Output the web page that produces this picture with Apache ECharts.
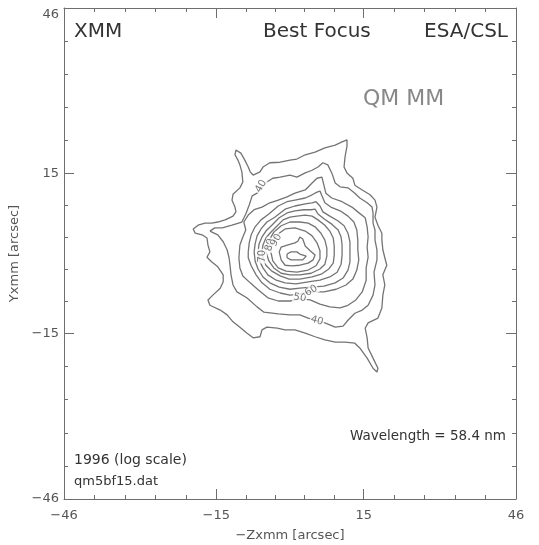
<!DOCTYPE html>
<html><head><meta charset="utf-8">
<script src="https://cdn.jsdelivr.net/npm/echarts@6/dist/echarts.min.js"></script>
<style>html,body{margin:0;padding:0;background:#fff}#c{width:539px;height:545px}</style>
</head><body><div id="c"></div>
<script>
// ---- data (arcsec) ----
const xTickLabels = [-46, -15, 15, 46];
const yTickLabels = [-46, -15, 15, 46];
const minorTicks = [-39.8, -33.6, -27.4, -21.2, -9, -3, 3, 9, 21.2, 27.4, 33.6, 39.8];
const levels = [30, 40, 50, 60, 70, 80, 90, 100, 110, 120, 130];

const contour30 = [[-11.0,19.4],[-10.0,18.8],[-9.2,17.5],[-8.5,16.2],[-8.1,15.3],[-7.5,14.7],[-6.1,15.3],[-5.5,16.2],[-4.1,17.0],[-2.0,17.1],[0.0,17.5],[1.4,17.7],[3.1,18.5],[5.1,19.0],[7.1,19.8],[9.2,20.3],[10.6,20.9],[11.6,21.3],[11.6,20.1],[11.2,18.1],[11.0,16.2],[11.6,15.1],[12.8,14.1],[13.2,12.8],[14.7,11.9],[16.3,11.0],[17.3,10.0],[17.7,8.7],[17.3,6.8],[17.9,5.3],[18.7,3.8],[18.7,2.5],[18.9,0.7],[19.3,-0.8],[19.7,-2.2],[18.9,-4.0],[19.3,-5.9],[18.9,-7.8],[18.7,-10.2],[17.9,-12.1],[15.9,-13.0],[15.3,-14.0],[15.7,-15.8],[15.9,-17.7],[16.9,-19.6],[17.9,-21.5],[17.7,-22.2],[16.9,-21.5],[15.7,-19.6],[14.2,-17.7],[13.2,-16.8],[11.2,-16.6],[9.2,-16.6],[7.1,-16.2],[5.1,-15.6],[3.1,-14.9],[1.0,-14.3],[-1.0,-14.3],[-2.6,-14.0],[-4.7,-13.8],[-5.7,-14.3],[-6.1,-15.6],[-7.5,-15.8],[-8.8,-14.9],[-10.2,-13.8],[-11.6,-12.8],[-12.8,-11.5],[-14.2,-10.6],[-16.3,-9.7],[-16.7,-8.7],[-15.7,-7.8],[-14.2,-6.5],[-13.6,-5.3],[-13.6,-4.0],[-14.7,-2.5],[-15.9,-1.6],[-16.9,-0.7],[-16.3,0.3],[-16.7,1.6],[-16.9,2.9],[-17.9,3.5],[-19.3,3.8],[-19.7,4.6],[-18.7,5.3],[-17.3,5.7],[-15.9,5.7],[-14.7,5.9],[-13.2,6.3],[-11.6,7.0],[-11.0,7.8],[-11.2,8.7],[-11.8,10.0],[-11.6,11.1],[-10.2,12.3],[-9.6,13.4],[-9.8,15.3],[-10.2,16.6],[-10.6,17.5],[-11.2,18.5]];
const contour40 = [[-16.3,4.2],[-15.3,4.8],[-13.8,4.8],[-11.8,5.3],[-9.8,5.9],[-9.0,7.4],[-8.3,9.1],[-7.7,10.8],[-6.7,11.3],[-5.7,12.3],[-4.7,13.4],[-3.5,14.1],[-2.0,14.3],[0.0,14.7],[1.4,14.3],[3.1,15.1],[4.5,15.6],[5.7,16.2],[6.7,17.0],[7.7,16.6],[8.5,15.1],[9.2,13.2],[10.2,12.5],[11.8,12.3],[13.2,11.3],[14.2,10.4],[15.7,9.5],[16.7,8.7],[16.9,7.6],[16.9,5.7],[17.3,4.4],[17.3,2.5],[17.7,0.7],[17.7,-1.2],[17.1,-3.5],[17.3,-5.9],[16.9,-7.8],[15.9,-9.7],[14.7,-10.6],[13.2,-11.2],[11.8,-12.5],[10.8,-13.6],[9.2,-13.8],[7.1,-13.0],[5.5,-12.6],[3.7,-12.1],[2.0,-11.5],[0.0,-11.5],[-2.4,-11.3],[-5.3,-11.0],[-6.7,-10.0],[-8.8,-8.3],[-10.8,-7.2],[-11.6,-5.9],[-12.0,-4.0],[-12.2,-2.3],[-12.4,-0.8],[-12.8,0.7],[-13.6,2.2],[-14.7,3.5]];
const contour50 = [[-10.2,1.6],[-9.6,3.1],[-9.0,4.4],[-9.4,5.9],[-8.5,7.2],[-7.3,8.2],[-5.7,8.7],[-4.1,9.5],[-2.4,10.0],[-0.6,10.6],[1.0,11.3],[3.1,11.9],[4.5,13.2],[5.5,14.1],[6.5,14.3],[6.9,12.8],[7.3,11.3],[8.5,10.4],[10.6,9.7],[12.6,8.7],[13.8,7.8],[15.3,6.7],[15.7,5.0],[15.9,3.1],[15.7,1.2],[15.9,-0.7],[15.5,-2.7],[15.5,-5.0],[14.7,-7.2],[13.4,-8.7],[11.8,-9.7],[10.2,-10.2],[8.1,-10.0],[6.1,-9.5],[4.1,-8.7],[2.0,-8.5],[0.0,-8.9],[-2.4,-8.9],[-4.5,-8.3],[-6.5,-6.8],[-8.1,-5.5],[-9.6,-4.2],[-10.2,-2.7],[-10.4,-0.8]];
const contour60 = [[-8.5,0.3],[-8.3,2.0],[-7.9,3.5],[-7.1,5.0],[-5.9,6.3],[-4.3,7.4],[-2.4,8.9],[-0.6,9.7],[1.0,10.0],[3.1,10.4],[4.5,11.0],[5.5,11.5],[6.1,11.7],[6.5,10.8],[7.1,9.5],[8.3,8.7],[10.2,8.0],[11.8,7.0],[13.0,5.9],[13.6,4.4],[13.8,2.5],[13.8,0.7],[14.0,-1.2],[13.6,-3.1],[12.8,-4.8],[11.4,-5.9],[9.4,-6.7],[6.9,-7.2],[4.3,-7.2],[2.0,-7.6],[0.0,-7.8],[-2.0,-7.4],[-4.1,-6.7],[-5.7,-5.5],[-6.9,-4.0],[-7.9,-2.3],[-8.5,-0.8]];
const contour70 = [[-7.3,0.3],[-7.1,1.8],[-6.7,3.3],[-5.9,4.6],[-4.7,5.9],[-3.1,6.8],[-1.0,8.3],[1.0,8.9],[3.1,9.3],[4.5,9.5],[5.3,9.7],[5.7,9.8],[6.1,8.9],[6.7,7.8],[8.1,7.0],[9.8,6.1],[11.0,5.2],[11.8,3.8],[12.2,2.2],[12.2,0.3],[12.2,-1.6],[11.8,-3.1],[10.8,-4.6],[9.2,-5.5],[6.9,-6.1],[4.5,-6.3],[2.0,-6.5],[0.0,-6.7],[-2.2,-6.3],[-4.1,-5.5],[-5.5,-4.4],[-6.5,-2.9],[-7.1,-1.4]];
const contour80 = [[-6.5,0.3],[-6.3,1.8],[-5.7,3.1],[-4.9,4.2],[-3.7,5.3],[-2.2,6.7],[-0.6,7.6],[1.0,8.0],[2.8,8.2],[4.3,8.2],[5.1,8.3],[5.7,7.4],[6.9,6.5],[8.5,5.5],[9.8,4.4],[10.4,3.1],[10.6,1.6],[10.6,-0.3],[10.4,-2.0],[9.6,-3.5],[8.1,-4.4],[6.1,-5.0],[3.7,-5.3],[1.2,-5.7],[-1.0,-5.5],[-2.8,-5.0],[-4.5,-4.0],[-5.5,-2.7],[-6.3,-1.2]];
const contour90 = [[-5.7,0.3],[-5.5,1.6],[-4.9,2.9],[-4.1,3.8],[-2.8,5.0],[-1.4,6.3],[0.0,6.8],[1.4,7.0],[3.1,7.2],[4.5,7.0],[5.7,6.3],[7.1,5.3],[8.1,4.2],[8.8,2.9],[9.0,1.4],[9.0,-0.3],[8.8,-1.8],[7.9,-2.9],[6.5,-3.8],[4.5,-4.4],[2.0,-4.8],[-0.2,-4.8],[-2.0,-4.2],[-3.7,-3.3],[-4.9,-2.2],[-5.5,-0.8]];
const contour100 = [[-4.9,0.3],[-4.7,1.6],[-4.1,2.7],[-3.3,4.0],[-1.8,5.2],[0.0,5.9],[2.0,5.9],[3.7,5.7],[5.1,5.0],[6.3,3.8],[7.1,2.5],[7.5,1.0],[7.5,-0.5],[7.1,-2.0],[6.1,-2.9],[4.3,-3.7],[2.0,-4.0],[0.0,-4.0],[-1.8,-3.7],[-3.3,-2.7],[-4.3,-1.4]];
const contour110 = [[-3.9,0.3],[-3.7,1.6],[-3.1,2.9],[-2.2,3.8],[-1.0,4.6],[1.0,4.8],[3.1,4.2],[4.5,3.3],[5.5,2.0],[6.1,0.5],[6.1,-1.0],[5.3,-2.3],[3.7,-3.1],[1.4,-3.5],[-0.8,-3.3],[-2.4,-2.7],[-3.5,-1.4]];
const contour120 = [[-2.2,0.3],[-1.8,1.2],[-0.4,1.6],[1.0,2.0],[1.6,2.3],[2.0,3.1],[2.6,2.7],[3.1,1.4],[4.1,0.5],[5.1,-0.3],[4.7,-1.2],[3.7,-1.8],[2.0,-2.2],[0.4,-2.3],[-1.0,-2.2],[-1.8,-1.2]];
const contour130 = [[-0.6,-0.1],[0.2,0.3],[1.4,0.3],[2.0,-0.1],[3.3,-0.5],[3.7,-0.8],[2.6,-1.2],[1.2,-1.2],[0.2,-1.2],[-0.6,-0.8]];

const contourLabelText = ['40', '40', '50', '60', '70', '80', '90'];
const contourLabelPos = [[-5.9, 12.6], [5.5, -12.6], [2.0, -8.3], [4.3, -7.0], [-5.7, -0.5], [-4.1, 1.6], [-2.8, 2.5]];
const contourLabelAngle = [60, -15, -10, 30, 90, 75, 60];

// ---- chart ----
const FONT = 'DejaVu Sans';
const frameColor = '#6e6e6e';
const lineStyle = { color: frameColor, width: 1 };
const fmt = v => (v < 0 ? '\u2212' : '') + Math.abs(v);

function axis(opts) {
  return Object.assign({
    type: 'value', min: -46, max: 46,
    splitLine: { show: false },
    axisLine: { show: false, onZero: false },
    axisTick: { show: false },
    axisLabel: { show: false }
  }, opts);
}
const majorTick = { show: true, inside: true, length: 10, customValues: xTickLabels, lineStyle };
const minorTick = { show: true, inside: true, length: 4, customValues: minorTicks, lineStyle };
const frameLine = { show: true, onZero: false, lineStyle };

const contours = [contour30, contour40, contour50, contour60, contour70, contour80, contour90, contour100, contour110, contour120, contour130];
const series = contours.map((pts, i) => ({
  type: 'line', name: String(levels[i]), xAxisIndex: 0, yAxisIndex: 0,
  data: pts.concat([pts[0]]), symbol: 'none', showSymbol: false, smooth: false,
  lineStyle: { color: '#747474', width: 1.3 }, silent: true, animation: false, z: 2
}));
series.push({
  type: 'scatter', xAxisIndex: 0, yAxisIndex: 0, symbolSize: 0, animation: false, silent: true, z: 5,
  data: contourLabelPos.map((p, i) => ({ value: [p[0], p[1], contourLabelText[i]], label: { rotate: contourLabelAngle[i] } })),
  label: { show: true, position: 'inside', formatter: p => p.value[2], fontSize: 10, fontFamily: FONT, color: '#555', backgroundColor: '#fff', padding: [0, 1] }
});

const textStyleBase = { fontFamily: FONT, fill: '#333', verticalAlign: 'middle' };
function txt(x, y, text, size, extra) {
  return { type: 'text', x, y, silent: true, style: Object.assign({}, textStyleBase, { text, fontSize: size }, extra || {}) };
}

const chart = echarts.init(document.getElementById('c'), null, { renderer: 'canvas' });
chart.setOption({
  animation: false,
  backgroundColor: '#fff',
  grid: [
    { left: 64, top: 8, right: 23, bottom: 46, outerBoundsMode: 'none', containLabel: false },
    { left: 64, top: 8, right: 23, bottom: 46, outerBoundsMode: 'none', containLabel: false }
  ],
  xAxis: [
    axis({ gridIndex: 0, position: 'bottom', axisLine: frameLine, axisTick: majorTick,
      axisLabel: { show: true, customValues: xTickLabels, formatter: fmt, margin: 10, fontSize: 13, fontFamily: FONT, color: '#555' },
      name: '\u2212Zxmm [arcsec]', nameLocation: 'middle', nameGap: 30,
      nameTextStyle: { fontSize: 13, fontFamily: FONT, color: '#555' } }),
    axis({ gridIndex: 0, position: 'top', axisLine: frameLine, axisTick: majorTick }),
    axis({ gridIndex: 1, position: 'bottom', axisTick: minorTick }),
    axis({ gridIndex: 1, position: 'top', axisTick: minorTick })
  ],
  yAxis: [
    axis({ gridIndex: 0, position: 'left', axisLine: frameLine, axisTick: Object.assign({}, majorTick, { customValues: yTickLabels }),
      axisLabel: { show: true, customValues: yTickLabels, margin: 5, fontSize: 13, fontFamily: FONT, color: '#555',
        formatter: v => v === 46 ? '{t|46}' : fmt(v),
        rich: { t: { padding: [13, 0, 0, 0], fontSize: 13, fontFamily: FONT, color: '#555' } } },
      name: 'Yxmm [arcsec]', nameLocation: 'middle', nameGap: 37, nameRotate: 90,
      nameTextStyle: { fontSize: 13, fontFamily: FONT, color: '#555' } }),
    axis({ gridIndex: 0, position: 'right', axisLine: frameLine, axisTick: Object.assign({}, majorTick, { customValues: yTickLabels }) }),
    axis({ gridIndex: 1, position: 'left', axisTick: minorTick }),
    axis({ gridIndex: 1, position: 'right', axisTick: minorTick })
  ],
  graphic: [
    txt(74, 32, 'XMM', 20),
    txt(263, 32, 'Best Focus', 20),
    txt(508, 32, 'ESA/CSL', 20, { align: 'right' }),
    txt(363, 99, 'QM MM', 22, { fill: '#888' }),
    txt(506, 436, 'Wavelength = 58.4 nm', 13.5, { align: 'right' }),
    txt(74, 460, '1996 (log scale)', 14),
    txt(74, 482, 'qm5bf15.dat', 13)
  ],
  series
});
</script>
</body></html>
